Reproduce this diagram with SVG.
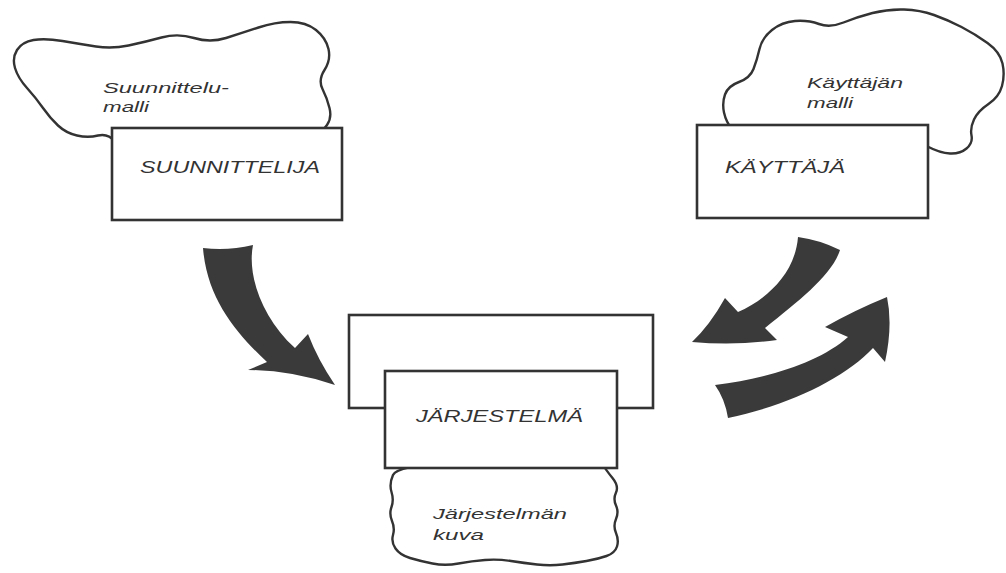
<svg xmlns="http://www.w3.org/2000/svg" width="1006" height="573" viewBox="0 0 1006 573">
  <style>
    .cloud { fill: #ffffff; stroke: #333333; stroke-width: 2.4; stroke-linejoin: round; }
    .box { fill: #ffffff; stroke: #333333; stroke-width: 2.6; }
    .label { font-family: "Liberation Sans", Arial, sans-serif; font-style: italic; fill: #333333; }
    .caps { font-size: 16.5px; }
    .small { font-size: 15.5px; }
    .arrow { fill: #3a3a3a; }
  </style>
  <rect width="1006" height="573" fill="#ffffff"/>

  <!-- designer with the design model -->
  <g id="designer">
    <path class="cloud" d="M115,141.5 Q108,133 98,135.5 Q88,138 77,135.5 Q66,133 58,125.5 Q50,118 43,108 Q36,98 27,88 Q18,78 15,68 Q12,58 17,50 Q22,42 33.5,40 Q45,38 62.5,41 Q80,44 96,46.5 Q112,49 128.5,45.5 Q145,42 161.5,37.5 Q178,33 194,38 Q210,43 226,38 Q242,33 258.5,27.5 Q275,22 290.5,22 Q306,22 316,30 Q326,38 328.5,49 Q331,60 324.5,70 Q318,80 322.5,89 Q327,98 329.5,108 Q332,118 327,125 Q322,132 311,141 Z"/>
    <text class="label small" x="103" y="93" textLength="126" lengthAdjust="spacingAndGlyphs">Suunnittelu-</text>
    <text class="label small" x="103" y="112" textLength="46" lengthAdjust="spacingAndGlyphs">malli</text>
    <rect class="box" x="112" y="128" width="230" height="92"/>
    <text class="label caps" x="140" y="173" textLength="180" lengthAdjust="spacingAndGlyphs">SUUNNITTELIJA</text>
  </g>

  <!-- user with the user's model -->
  <g id="user">
    <path class="cloud" d="M733,131 Q726,122 724,112.5 Q722,103 725,94.5 Q728,86 739,82 Q750,78 753.5,69 Q757,60 759.5,49 Q762,38 772,30 Q782,22 795,21 Q808,20 819,24 Q830,28 843.5,22.5 Q857,17 872.5,13 Q888,9 904,9.5 Q920,10 934,15 Q948,20 961.5,27 Q975,34 987.5,43 Q1000,52 1002.5,63.5 Q1005,75 1002,86 Q999,97 988.5,104 Q978,111 974,119.5 Q970,128 971.5,135.5 Q973,143 966.5,148.5 Q960,154 950,153.5 Q940,153 927.5,146.5 L915,140 Z"/>
    <text class="label small" x="807" y="88" textLength="96" lengthAdjust="spacingAndGlyphs">Käyttäjän</text>
    <text class="label small" x="807" y="108" textLength="46" lengthAdjust="spacingAndGlyphs">malli</text>
    <rect class="box" x="697" y="125" width="231" height="93"/>
    <text class="label caps" x="725" y="173" textLength="120" lengthAdjust="spacingAndGlyphs">KÄYTTÄJÄ</text>
  </g>

  <!-- system with the system image -->
  <g id="system">
    <path class="cloud" d="M448.5,463 Q397,466 393,475 Q389,484 391.5,492 Q394,500 391.5,507 Q389,514 392,521 Q395,528 393,535 Q391,542 395.5,548.5 Q400,555 410,558 Q420,561 432.5,563.5 Q445,566 458.5,563.5 Q472,561 485,560 Q498,559 511,561 Q524,563 537,564.5 Q550,566 562.5,564.5 Q575,563 586.5,561 Q598,559 606.5,556 Q615,553 617,546.5 Q619,540 616,533 Q613,526 616,519 Q619,512 616,505.5 Q613,499 616,492.5 Q619,486 612.5,478 Q606,470 603,465 Z"/>
    <text class="label small" x="433" y="519" textLength="134" lengthAdjust="spacingAndGlyphs">Järjestelmän</text>
    <text class="label small" x="433" y="540" textLength="51" lengthAdjust="spacingAndGlyphs">kuva</text>
    <rect class="box" x="349" y="315" width="304" height="93"/>
    <rect class="box" x="385" y="371" width="232" height="97"/>
    <text class="label caps" x="416" y="422" textLength="167" lengthAdjust="spacingAndGlyphs">JÄRJESTELMÄ</text>
  </g>

  <!-- curved block arrows between the parties -->
  <g id="connectors">
    <path class="arrow" d="M203,248 Q228,251 253,245 C247,275 262,318 295,348 L308,334 Q318,360 335,385 Q290,370 248,370 L267,362 C238,335 207,300 203,248 Z"/>
    <path class="arrow" d="M798,237 Q820,240 840,250 C832,275 800,300 765,328 L777,340 Q735,346 692,342 Q710,325 725,298 L738,312 C765,300 795,275 798,237 Z"/>
    <path class="arrow" d="M715,385 Q725,399 728,418 C790,405 845,378 873,348 L885,362 Q893,325 887,297 Q855,310 825,327 L848,337 C820,362 770,378 715,385 Z"/>
  </g>
</svg>
